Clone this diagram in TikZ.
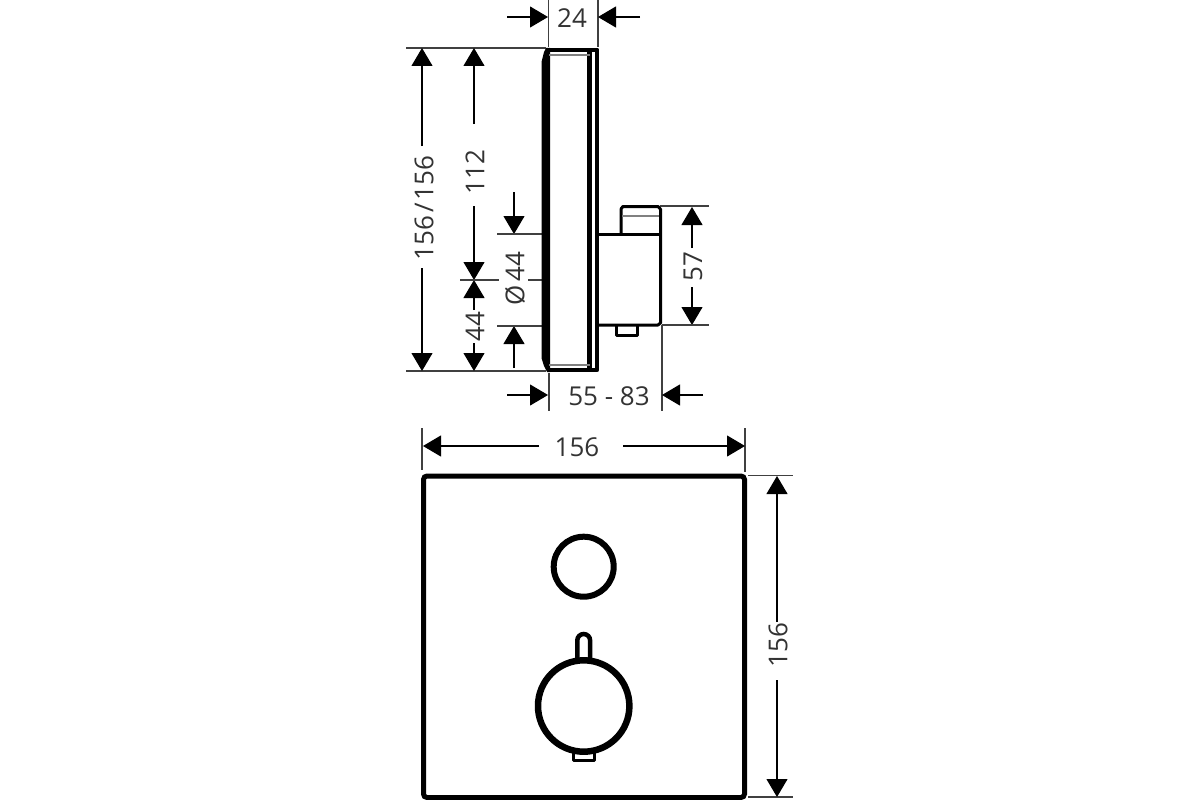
\documentclass[tikz,border=0pt]{standalone}
\usepackage{fontspec}
\setmainfont{Open Sans}
\usetikzlibrary{arrows.meta}
\tikzset{
  dimline/.style = {line width = 1.1pt, black!85},
  dimarrow/.style = {dimline, -{Triangle[length = 18pt, width = 21pt]}, black},
  extline/.style = {line width = 1.1pt, black!75},
  medium/.style = {line width = 3pt, line join = round},
  fineline/.style = {line width = 1.4pt, black!50},
  dimlabel/.style = {font = \fontsize{26}{26}\selectfont, inner sep = 0pt, text = black!80}
}
\begin{document}
\begin{tikzpicture}[x = 1pt, y = -1pt]
    \useasboundingbox (0, 0) rectangle (1200, 800);

    \draw[extline] (548.5, 0)--(548.5, 47);
    \draw[extline] (598, 0)--(598, 47);
    \draw[extline] (406, 48)--(546, 48);
    \draw[extline] (406, 371)--(546, 371);
    \draw[dimarrow] (507, 17)--(548, 17);
    \draw[dimarrow] (640, 17)--(598, 17);
    \node[dimlabel] (topdepth) at (572, 18) {24};

    \draw[dimarrow] (422, 146)--(422, 48);
    \draw[dimarrow] (422, 268)--(422, 371);
    \node[dimlabel, rotate = 90] (fullheight) at (424, 208) {156\kern 3pt/\kern 3pt156};

    \draw[dimarrow] (474, 124)--(474, 48);
    \draw[dimarrow] (474, 206)--(474, 280);
    \draw[dimarrow] (474, 310)--(474, 280);
    \draw[dimarrow] (474, 343)--(474, 371);
    \node[dimlabel, rotate = 90] (upperheight) at (475, 172) {112};
    \node[dimlabel, rotate = 90] (lowerheight) at (475, 327) {44};
    \draw[extline] (460, 280)--(499, 280);
    \draw[extline] (528, 280)--(542, 280);

    \draw[dimarrow] (514, 192)--(514, 234);
    \draw[dimarrow] (514, 368)--(514, 326);
    \draw[extline] (497, 234)--(542, 234);
    \draw[extline] (497, 326)--(542, 326);
    \node[dimlabel, rotate = 90] (knobdia) at (515, 279) {Ø\kern 4pt 44};

    \draw[dimarrow] (692, 248)--(692, 207);
    \draw[dimarrow] (692, 287)--(692, 325);
    \draw[extline] (660, 206)--(709, 206);
    \draw[extline] (662, 325)--(709, 325);
    \node[dimlabel, rotate = 90] (boxheight) at (693, 267) {57};

    \draw[extline] (549, 373)--(549, 411);
    \draw[extline] (662, 325)--(662, 411);
    \draw[dimarrow] (507, 395)--(548, 395);
    \draw[dimarrow] (703, 395)--(662, 395);
    \node[dimlabel] (walldepth) at (609, 396) {55 - 83};

    \fill (541.5, 62)--(544, 52)--(546, 48)--(550, 48)--(550, 372)--(547, 372)--(544, 366)--(541.5, 358)--cycle;
    \draw[line width = 4pt, line join = round] (548, 49.7)--(597.3, 49.7)--(597.3, 370)--(548, 370);
    \draw[line width = 4.5pt] (589.5, 50)--(589.5, 369);
    \draw[fineline] (549, 55)--(590, 55);
    \draw[fineline] (549, 365)--(590, 365);

    \draw[medium] (598, 234)--(660, 234);
    \draw[medium] (621, 234)--(621, 209) to[out = -90, in = 180] (623, 206.5)--(658, 206.5) to[out = 0, in = -90] (660.5, 209)--(660.5, 323)--(658, 325)--(598, 325);
    \draw[fineline] (622, 216)--(659, 216);
    \draw[line width = 3pt, line join = round] (616, 326)--(616, 335)--(637, 335)--(637, 326);

    \draw[line width = 5pt, rounded corners = 3.5pt] (423.5, 476) rectangle (744.5, 797.5);
    \draw[extline] (422, 428)--(422, 470);
    \draw[extline] (745, 428)--(745, 472);
    \draw[dimarrow] (539, 446)--(423, 446);
    \draw[dimarrow] (623, 446)--(745, 446);
    \node[dimlabel] (frontwidth) at (577, 447) {156};

    \draw[extline] (748, 475.5)--(793, 475.5);
    \draw[extline] (748, 797)--(793, 797);
    \draw[dimarrow] (777, 622)--(777, 476);
    \draw[dimarrow] (777, 680)--(777, 797);
    \node[dimlabel, rotate = 90] (frontheight) at (778, 645) {156};

    \draw[line width = 6pt] (583.7, 566.7) circle (30);
    \draw[line width = 6.5pt] (583.7, 706) circle (45.7);
    \draw[line width = 4.5pt] (577.3, 661)--(577.3, 640.4) arc (180:360:6.4)--(590.1, 661);
    \draw[line width = 3pt, line join = round] (573.8, 752)--(573.8, 760.8)--(594.5, 760.8)--(594.5, 752);
\end{tikzpicture}
\end{document}
